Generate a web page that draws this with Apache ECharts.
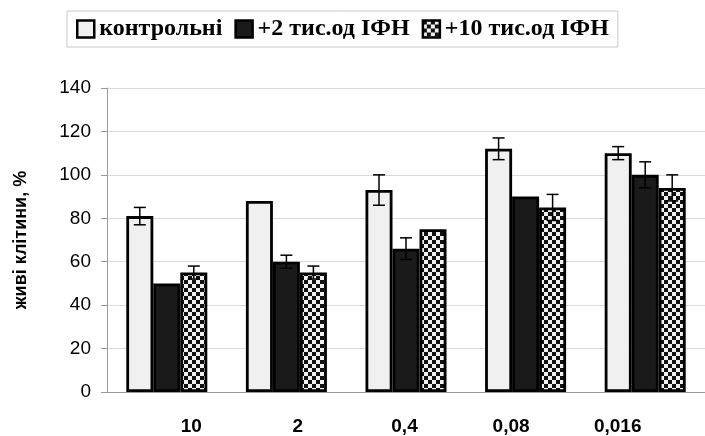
<!DOCTYPE html>
<html>
<head>
<meta charset="utf-8">
<script src="https://cdn.jsdelivr.net/npm/echarts@6/dist/echarts.min.js"></script>
<style>
  html, body { margin: 0; padding: 0; background: #fff; }
  #chart { width: 705px; height: 436px; }
</style>
</head>
<body>
<div id="chart"></div>
<script>
// concentrations (x labels)
var doses = ['10', '2', '0,4', '0,08', '0,016'];
var seriesNames = ['контрольні', '+2 тис.од ІФН', '+10 тис.од ІФН'];

// живі клітини, %
var control = [81, 88, 93, 112, 110];
var ifn2 = [50, 60, 66, 90, 100];
var ifn10 = [55, 55, 75, 85, 94];

// error bars (null = none drawn)
var controlErr = [4, null, 7, 5, 3];
var ifn2Err = [null, 3, 5, null, 6];
var ifn10Err = [3, 3, null, 6, 6];

var myChart = echarts.init(document.getElementById('chart'));

// checkered fill
var cv = document.createElement('canvas');
cv.width = 8; cv.height = 8;
var ctx = cv.getContext('2d');
ctx.fillStyle = '#f0f0f0';
ctx.fillRect(0, 0, 8, 8);
ctx.fillStyle = '#111';
ctx.fillRect(0, 0, 4, 4);
ctx.fillRect(4, 4, 4, 4);
var checker = { image: cv, repeat: 'repeat' };

var allVals = [control, ifn2, ifn10];
var allErr = [controlErr, ifn2Err, ifn10Err];
var errData = [];
for (var s = 0; s < 3; s++) {
    for (var i = 0; i < doses.length; i++) {
        if (allErr[s][i] != null) {
            errData.push([i, s, allVals[s][i] - allErr[s][i], allVals[s][i] + allErr[s][i]]);
        }
    }
}

var barW = 27;

function renderErr(params, api) {
    var ci = api.value(0);
    var off = (api.value(1) - 1) * barW;
    var lo = api.coord([ci, api.value(2)]);
    var hi = api.coord([ci, api.value(3)]);
    var x = lo[0] + off;
    var st = { stroke: '#000', lineWidth: 1.5 };
    return {
        type: 'group',
        children: [
            { type: 'line', shape: { x1: x, y1: lo[1], x2: x, y2: hi[1] }, style: st },
            { type: 'line', shape: { x1: x - 6, y1: lo[1], x2: x + 6, y2: lo[1] }, style: st },
            { type: 'line', shape: { x1: x - 6, y1: hi[1], x2: x + 6, y2: hi[1] }, style: st }
        ]
    };
}

var barStyle = { borderColor: '#000', borderWidth: 2.8 };

option = {
    animation: false,
    legend: {
        data: seriesNames,
        left: 67,
        top: 11,
        icon: 'rect',
        itemWidth: 17,
        itemHeight: 17,
        itemGap: 12,
        padding: [6, 9, 6, 9],
        borderColor: '#c8c8c8',
        borderWidth: 1,
        itemStyle: { borderColor: '#000', borderWidth: 2.5 },
        textStyle: {
            fontFamily: 'Liberation Serif',
            fontWeight: 'bold',
            fontSize: 24,
            color: '#000'
        }
    },
    grid: [
        { left: 107, top: 88, width: 610, height: 304 },
        { left: 138, top: 88, width: 533, height: 304 }
    ],
    xAxis: [
        {
            type: 'category',
            gridIndex: 0,
            data: doses,
            axisLine: { show: true, lineStyle: { color: '#999', width: 1 } },
            axisTick: { show: false },
            axisLabel: { show: false }
        },
        {
            type: 'category',
            gridIndex: 1,
            data: doses,
            axisLine: { show: false },
            axisTick: { show: false },
            axisLabel: {
                margin: 25,
                fontFamily: 'Liberation Sans',
                fontWeight: 'bold',
                fontSize: 19,
                color: '#000'
            }
        }
    ],
    yAxis: [
        {
            type: 'value',
            gridIndex: 0,
            min: 0,
            max: 140,
            interval: 20,
            name: 'живі клітини, %',
            nameLocation: 'middle',
            nameRotate: 90,
            nameGap: 77,
            nameTextStyle: {
                fontFamily: 'Liberation Sans',
                fontWeight: 'bold',
                fontSize: 18,
                color: '#000'
            },
            axisLine: { show: true, lineStyle: { color: '#999', width: 1 } },
            axisTick: { show: true, length: 6, lineStyle: { color: '#999' } },
            splitLine: { lineStyle: { color: '#d9d9d9', width: 1 } },
            axisLabel: {
                margin: 16,
                fontFamily: 'Liberation Sans',
                fontSize: 19,
                color: '#000'
            }
        },
        { type: 'value', gridIndex: 1, show: false, min: 0, max: 1 }
    ],
    series: [
        {
            name: seriesNames[0],
            type: 'bar',
            barWidth: barW,
            barGap: '0%',
            data: control,
            itemStyle: Object.assign({ color: '#f0f0f0' }, barStyle)
        },
        {
            name: seriesNames[1],
            type: 'bar',
            barWidth: barW,
            barGap: '0%',
            data: ifn2,
            itemStyle: Object.assign({ color: '#1a1a1a' }, barStyle)
        },
        {
            name: seriesNames[2],
            type: 'bar',
            barWidth: barW,
            barGap: '0%',
            data: ifn10,
            itemStyle: Object.assign({ color: checker }, barStyle)
        },
        {
            type: 'custom',
            renderItem: renderErr,
            data: errData,
            encode: { x: 0, y: [2, 3] },
            z: 5,
            silent: true
        }
    ]
};

myChart.setOption(option);
</script>
</body>
</html>
